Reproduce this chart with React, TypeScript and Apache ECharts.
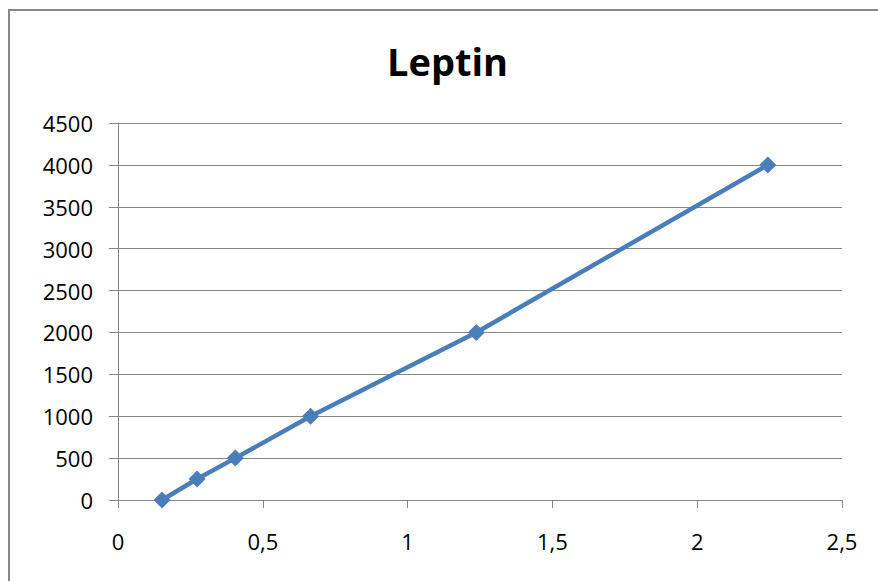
import React, { useEffect, useRef } from "react";
import * as echarts from "echarts";

const xValues = [0.152, 0.273, 0.405, 0.665, 1.237, 2.244];
const yValues = [0, 250, 500, 1000, 2000, 4000];
const titleText = "Leptin";

export default function App() {
  const ref = useRef<HTMLDivElement>(null);
  useEffect(() => {
    if (!ref.current) return;
    const chart = echarts.init(ref.current, null, { renderer: "svg" });
    const font = "'Open Sans', sans-serif";
    chart.setOption({
      animation: false,
      backgroundColor: "#ffffff",
      title: {
        text: titleText,
        left: 382,
        top: 37,
        textStyle: { fontFamily: font, fontWeight: "bold", fontSize: 38, color: "#000" },
      },
      graphic: [
        {
          type: "rect",
          shape: { x: 9, y: 10, width: 900, height: 600 },
          style: { fill: "none", stroke: "#878787", lineWidth: 2 },
          silent: true,
        },
      ],
      grid: { left: 118, right: 36, top: 123, bottom: 81 },
      xAxis: {
        type: "value",
        min: 0,
        max: 2.5,
        interval: 0.5,
        axisLine: { show: true, onZero: false, lineStyle: { color: "#878787", width: 1 } },
        axisTick: { show: true, length: 8, lineStyle: { color: "#878787" } },
        splitLine: { show: false },
        axisLabel: {
          fontFamily: font,
          fontSize: 22,
          color: "#000",
          margin: 30,
          formatter: (v: number) => String(v).replace(".", ","),
        },
      },
      yAxis: {
        type: "value",
        min: 0,
        max: 4500,
        interval: 500,
        axisLine: { show: true, lineStyle: { color: "#878787", width: 1 } },
        axisTick: { show: true, length: 9, lineStyle: { color: "#878787" } },
        splitLine: { show: true, lineStyle: { color: "#878787", width: 1 } },
        axisLabel: {
          fontFamily: font,
          fontSize: 22,
          color: "#000",
          margin: 25,
          formatter: (v: number) => String(v),
        },
      },
      series: [
        {
          type: "line",
          data: xValues.map((x, i) => [x, yValues[i]]),
          symbol: "diamond",
          symbolSize: 17,
          lineStyle: { color: "#4A7EBB", width: 4.5 },
          itemStyle: { color: "#4A7EBB" },
        },
      ],
    });
    return () => chart.dispose();
  }, []);
  return (
    <div
      ref={ref}
      style={{ position: "fixed", left: 0, top: 0, width: 878, height: 581, background: "#fff" }}
    />
  );
}
